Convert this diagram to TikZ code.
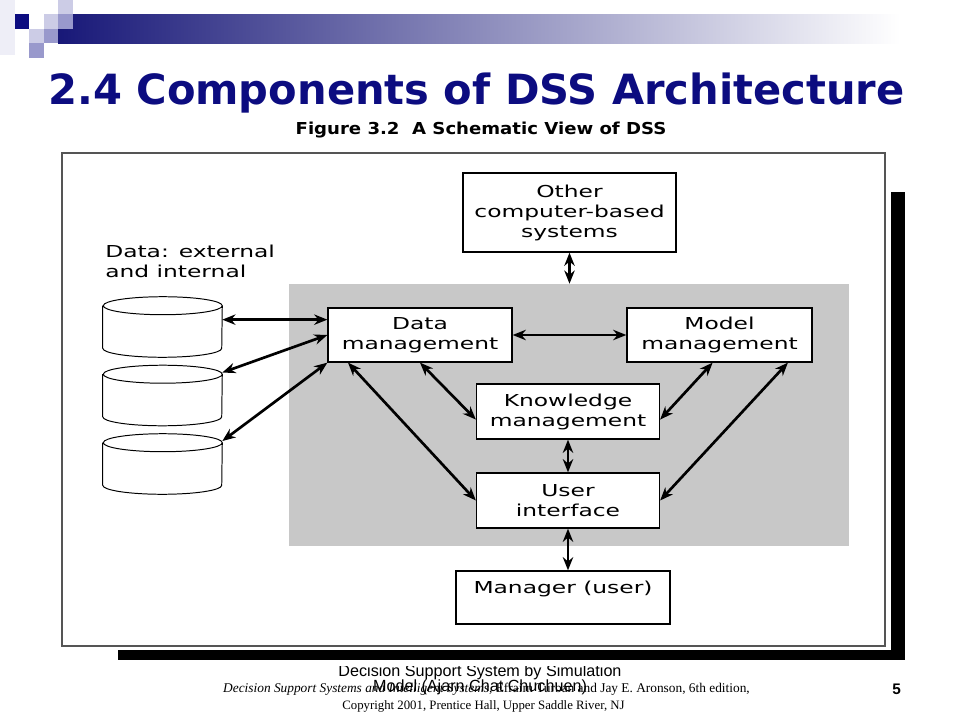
\documentclass[tikz,border=0pt]{standalone}
\usepackage{fontspec}
\usepackage{tikz}
\usetikzlibrary{
    arrows.meta,
    calc,
    positioning
}
\setmainfont{Liberation Serif}
\setsansfont{Liberation Sans}
\newfontfamily\dssfont[FakeStretch=1.42]{DejaVu Sans}
\newfontfamily\titlefont{DejaVu Sans}
\newfontfamily\figfont[FakeStretch=1.1]{DejaVu Sans}
\definecolor{titleblue}{RGB}{12,12,128}
\definecolor{decoblue}{RGB}{24,24,120}
\definecolor{decolight}{RGB}{204,204,230}
\definecolor{decomid}{RGB}{153,153,204}
\definecolor{decopale}{RGB}{238,238,247}
\definecolor{dssgray}{RGB}{200,200,200}
\definecolor{framegray}{RGB}{85,85,85}

\begin{document}
\begin{tikzpicture}[
        every node/.style={inner sep=0pt},
        box/.style={draw, fill=white, line width=0.9pt, align=center,
            font=\dssfont\fontsize{11.7}{14.2}\selectfont},
        db/.style={minimum width=2.975cm, minimum height=1.5cm},
        link/.style={line width=1.9pt,
            {Stealth[length=3.3mm,width=2.6mm]}-{Stealth[length=3.3mm,width=2.6mm]}}
    ]
        \useasboundingbox (0, 0) rectangle (24, 18);
        \fill[white] (0, 0) rectangle (24, 18);

        % slide corner
        \fill[decopale] (0, 16.625) rectangle (0.3625, 18);
        \shade[left color=decoblue, right color=white] (1.45, 16.9125) rectangle (22.5, 17.6375);
        \foreach \col/\row/\clr in {1/1/titleblue, 3/1/decolight, 4/0/decolight, 2/2/decolight,
                                    4/1/decomid, 3/2/decomid, 2/3/decomid}
            \fill[\clr] ({\col*0.3625}, {18-(\row+1)*0.3625}) rectangle ({(\col+1)*0.3625}, {18-\row*0.3625});

        \node[anchor=base west, text=titleblue, font=\titlefont\bfseries\fontsize{29.6}{35}\selectfont]
            (title) at (1.2, 15.375) {2.4 Components of DSS Architecture};
        \node[anchor=base, font=\figfont\bfseries\fontsize{11.7}{14}\selectfont]
            (figcap) at (12.025, 14.625) {Figure 3.2\ \ A Schematic View of DSS};

        % frame and shadow
        \fill (22.275, 1.5) rectangle (22.625, 13.2);
        \fill (2.95, 1.5) rectangle (22.625, 1.75);
        \draw[framegray, line width=1pt, fill=white] (1.55, 1.85) rectangle (22.125, 14.175);

        \node[fill=dssgray, minimum width=14cm, minimum height=6.55cm] (dss) at (14.225, 7.625) {};

        \node[box, minimum width=5.325cm, minimum height=1.975cm] (other) at (14.2375, 12.6875) {Other\\computer-based\\systems};
        \node[box, minimum width=4.6cm, minimum height=1.35cm] (data) at (10.5, 9.625) {Data\\management};
        \node[box, minimum width=4.625cm, minimum height=1.35cm] (model) at (17.9875, 9.625) {Model\\management};
        \node[box, minimum width=4.575cm, minimum height=1.375cm] (know) at (14.2, 7.7125) {Knowledge\\management};
        \node[box, minimum width=4.575cm, minimum height=1.375cm] (user) at (14.2, 5.4875) {User\\interface};
        \node[box, minimum width=5.35cm, minimum height=1.325cm] (manager) at (14.075, 3.0625) {Manager (user)\\\mbox{}};

        \node[anchor=north west, align=left, font=\dssfont\fontsize{11.7}{14.2}\selectfont]
            (datalabel) at (2.625, 11.8875) {Data: external\\and internal};
        \node[db] (db1) at (4.0625, 9.825) {};
        \node[db] (db2) at (4.0625, 8.1125) {};
        \node[db] (db3) at (4.0625, 6.4) {};
        % the cylinders round the db nodes
        \foreach \d in {db1, db2, db3}
            \draw[fill=white, line width=0.7pt]
                ([yshift=-0.225cm]\d.north west) -- ([yshift=0.225cm]\d.south west)
                arc[start angle=180, end angle=360, x radius=1.4875cm, y radius=0.225cm]
                -- ([yshift=-0.225cm]\d.north east)
                arc[start angle=0, end angle=180, x radius=1.4875cm, y radius=0.225cm]
                arc[start angle=180, end angle=360, x radius=1.4875cm, y radius=0.225cm];

        \draw[link] (other.south) -- (other.south |- dss.north);
        \draw[link] (data.east) -- (model.west);
        \draw[link] (know.south) -- (user.north);
        \draw[link] (user.south) -- (user.south |- manager.north);
        \draw[link] (db1.7) -- (db1.7 -| data.west);
        \draw[link] (db2.21) -- (data.west);
        \draw[link] (db3.21) -- (data.south west);
        \draw[link] (data.south) -- (know.185);
        \draw[link] (data.201) -- (user.west);
        \draw[link] (model.256) -- (know.-5);
        \draw[link] (model.338) -- (user.east);

        % footer
        \begin{scope}
            \clip (0, 0) rectangle (24, 1.35);
            \node[anchor=base, font=\sffamily\fontsize{11.5}{11}\selectfont] (foot1) at (12, 1.1) {Decision Support System by Simulation};
        \end{scope}
        \node[anchor=base, font=\sffamily\fontsize{11.5}{11}\selectfont] (foot2) at (12, 0.7125) {Model (Ajarn Chat Chuchuen)};
        \node[anchor=base, font=\rmfamily\fontsize{9.5}{10}\selectfont] (cite1) at (12.1625, 0.7)
            {\textit{Decision Support Systems and Intelligent Systems,} Efraim Turban and Jay E. Aronson, 6th edition,};
        \node[anchor=base, font=\rmfamily\fontsize{9.1}{10}\selectfont] (cite2) at (12.0875, 0.275)
            {Copyright 2001, Prentice Hall, Upper Saddle River, NJ};
        \node[anchor=base west, font=\sffamily\bfseries\fontsize{10.9}{12}\selectfont] (pagenum) at (22.3, 0.65) {5};
    \end{tikzpicture}
\end{document}
